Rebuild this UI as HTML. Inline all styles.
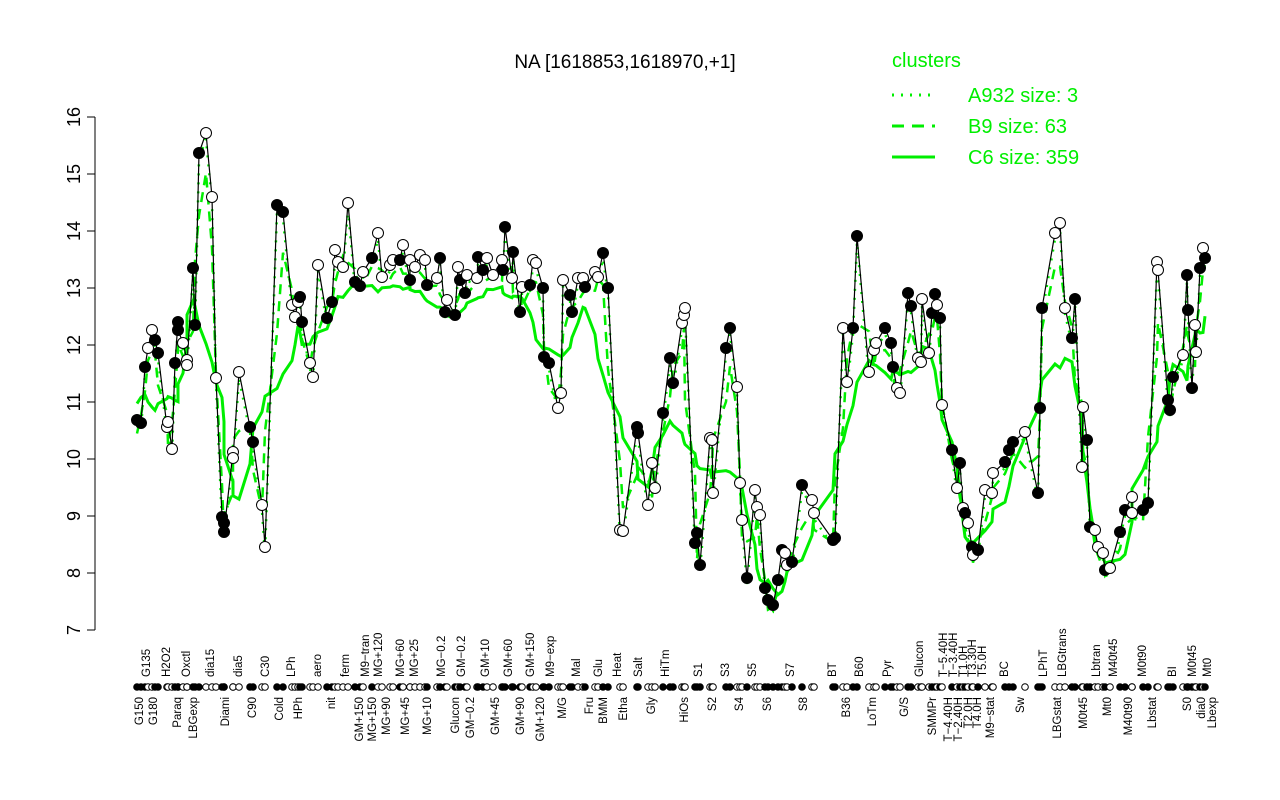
<!DOCTYPE html>
<html><head><meta charset="utf-8"><style>
body{margin:0;background:#fff}
svg{display:block;font-family:"Liberation Sans",sans-serif}
</style></head><body>
<svg id="s" width="1280" height="800" xmlns="http://www.w3.org/2000/svg">
<text x="625" y="68" font-size="19" text-anchor="middle">NA [1618853,1618970,+1]</text>
<line x1="95" y1="117" x2="95" y2="630" stroke="#000"/>
<text x="892" y="67" font-size="20" fill="#00ee00">clusters</text>
<line x1="892" y1="95" x2="935" y2="95" stroke="#00ee00" stroke-width="3" stroke-dasharray="2,7"/>
<line x1="892" y1="126" x2="935" y2="126" stroke="#00ee00" stroke-width="3" stroke-dasharray="12,8"/>
<line x1="892" y1="157" x2="935" y2="157" stroke="#00ee00" stroke-width="3"/>
<text x="968" y="102" font-size="20" fill="#00ee00">A932 size: 3</text>
<text x="968" y="133" font-size="20" fill="#00ee00">B9 size: 63</text>
<text x="968" y="164" font-size="20" fill="#00ee00">C6 size: 359</text>
<g id="g"></g>
</svg>
<script>
const NS="http://www.w3.org/2000/svg",g=document.getElementById('g');
function el(t,a,txt){const e=document.createElementNS(NS,t);for(const k in a)e.setAttribute(k,a[k]);if(txt)e.textContent=txt;g.appendChild(e);return e;}
for(let v=7;v<=16;v++){const y=630-(v-7)*57;el('line',{x1:87,y1:y,x2:95,y2:y,stroke:'#000'});
el('text',{x:80,y:y,'font-size':18,'text-anchor':'middle',transform:`rotate(-90 80 ${y})`},String(v));}
// [x,y,filled]
const P=[[137,420,1],[141,423,1],[145,367,1],[148,348,0],[152,330,0],[155,340,1],[158,353,1],[167,427,0],[168,422,0],[172,449,0],[175,363,1],[178,322,1],[178,330,1],[183,343,0],[187,360,0],[187,365,0],[193,268,1],[195,325,1],[199,153,1],[206,133,0],[212,197,0],[216,378,0],[222,517,1],[224,523,1],[224,532,1],[233,452,0],[233,458,0],[239,372,0],[250,427,1],[253,442,1],[262,505,0],[265,547,0],[277,205,1],[283,212,1],[292,305,0],[295,317,0],[298,302,0],[300,297,1],[302,322,1],[310,363,0],[313,377,0],[318,265,0],[327,318,1],[332,302,1],[335,250,0],[338,262,0],[343,267,0],[348,203,0],[355,282,1],[360,286,1],[363,272,0],[372,258,1],[378,233,0],[382,277,0],[390,265,0],[393,260,0],[400,260,1],[403,245,0],[410,280,1],[410,260,0],[415,267,0],[420,255,0],[425,260,0],[427,285,1],[437,278,0],[440,258,1],[445,312,1],[447,300,0],[455,315,1],[458,267,0],[460,280,1],[465,293,1],[467,275,0],[477,278,0],[478,257,1],[483,270,1],[487,258,0],[493,275,0],[502,260,0],[503,270,1],[505,227,1],[512,278,0],[513,252,1],[520,312,1],[522,287,0],[530,285,1],[533,260,0],[536,263,0],[543,288,1],[544,357,1],[549,363,1],[558,408,0],[561,393,0],[563,280,0],[570,295,1],[572,312,1],[578,278,0],[583,278,0],[585,287,1],[595,272,0],[598,277,0],[603,253,1],[608,288,1],[620,530,0],[623,531,0],[637,427,1],[638,433,1],[648,505,0],[652,463,0],[655,488,0],[663,413,1],[670,358,1],[673,383,1],[682,323,0],[684,315,0],[685,308,0],[695,543,1],[697,533,1],[700,565,1],[710,438,0],[712,440,0],[713,493,0],[726,348,1],[730,328,1],[737,387,0],[740,483,0],[742,520,0],[747,578,1],[755,490,0],[757,507,0],[760,515,0],[765,588,1],[768,600,1],[773,605,1],[778,580,1],[782,550,1],[785,553,0],[787,565,0],[792,562,1],[802,485,1],[812,500,0],[814,513,0],[833,540,1],[835,538,1],[843,328,0],[847,382,0],[853,328,1],[857,236,1],[869,372,0],[874,350,0],[876,343,0],[885,328,1],[891,343,1],[893,367,1],[897,388,0],[900,393,0],[908,293,1],[911,306,1],[918,358,0],[921,362,0],[922,299,0],[929,353,0],[932,313,1],[935,294,1],[937,305,0],[940,318,1],[942,405,0],[952,450,1],[957,488,0],[960,463,1],[963,508,0],[965,513,1],[968,523,0],[972,547,1],[973,555,0],[978,550,1],[985,490,0],[992,493,0],[993,473,0],[1005,462,1],[1009,450,1],[1013,442,1],[1025,432,0],[1038,493,1],[1040,408,1],[1042,308,1],[1055,233,0],[1060,223,0],[1065,308,0],[1072,338,1],[1075,299,1],[1082,467,0],[1083,407,0],[1087,440,1],[1090,527,1],[1095,530,0],[1098,547,0],[1103,553,0],[1105,570,1],[1110,568,0],[1120,532,1],[1125,510,1],[1132,497,0],[1132,513,0],[1143,510,1],[1148,503,1],[1157,262,0],[1158,270,0],[1168,400,1],[1170,410,1],[1173,377,1],[1183,355,0],[1187,275,1],[1188,310,1],[1192,388,1],[1195,325,0],[1196,352,0],[1200,268,1],[1203,248,0],[1205,258,1]];
function smooth(off,w){return P.map((p,i)=>{let s=0,n=0;for(let j=Math.max(0,i-w);j<=Math.min(P.length-1,i+w);j++){s+=P[j][1];n++;}return [p[0],Math.min(622,s/n+off)];});}
function pl(pts,a){el('polyline',Object.assign({points:pts.map(p=>p[0]+','+p[1]).join(' '),fill:'none'},a));}
pl(smooth(26,4),{stroke:'#00ee00','stroke-width':3});
pl(smooth(12,1),{stroke:'#00ee00','stroke-width':2.5,'stroke-dasharray':'10,7'});
pl(smooth(6,0),{stroke:'#00ee00','stroke-width':2.5,'stroke-dasharray':'2,7'});
pl(P,{stroke:'#000','stroke-width':1.2});
P.forEach(p=>{const f=p[2]?'#000':'#fff';
el('circle',{cx:p[0],cy:p[1],r:5.5,fill:f,stroke:'#000','stroke-width':1});
el('circle',{cx:p[0],cy:687,r:3.3,fill:f,stroke:'#000','stroke-width':1});});
const L=[[139,'G150'],[146,'G135'],[153,'G180'],[166,'H2O2'],[177,'Paraq'],[186,'Oxctl'],[193,'LBGexp'],[210,'dia15'],[225,'Diami'],[238,'dia5'],[252,'C90'],[265,'C30'],[279,'Cold'],[291,'LPh'],[298,'HPh'],[317,'aero'],[331,'nit'],[345,'ferm'],[359,'GM+150'],[365,'M9−tran'],[372,'MG+150'],[378,'MG+120'],[386,'MG+90'],[400,'MG+60'],[405,'MG+45'],[414,'MG+25'],[427,'MG+10'],[441,'MG−0.2'],[455,'Glucon'],[461,'GM−0.2'],[470,'GM−0.2'],[485,'GM+10'],[495,'GM+45'],[508,'GM+60'],[520,'GM+90'],[530,'GM+150'],[540,'GM+120'],[550,'M9−exp'],[562,'M/G'],[576,'Mal'],[589,'Fru'],[598,'Glu'],[603,'BMM'],[617,'Heat'],[623,'Etha'],[638,'Salt'],[651,'Gly'],[665,'HiTm'],[684,'HiOs'],[698,'S1'],[712,'S2'],[725,'S3'],[739,'S4'],[752,'S5'],[767,'S6'],[790,'S7'],[803,'S8'],[832,'BT'],[846,'B36'],[859,'B60'],[872,'LoTm'],[887,'Pyr'],[904,'G/S'],[919,'Glucon'],[932,'SMMPr'],[943,'T−5.40H'],[948,'T−4.40H'],[953,'T−3.40H'],[958,'T−2.40H'],[963,'T1.0H'],[968,'T2.0H'],[972,'T3.30H'],[977,'T4.0H'],[982,'T5.0H'],[990,'M9−stat'],[1004,'BC'],[1020,'Sw'],[1043,'LPhT'],[1057,'LBGstat'],[1062,'LBGtrans'],[1083,'M0t45'],[1096,'Lbtran'],[1107,'Mt0'],[1113,'M40t45'],[1128,'M40t90'],[1142,'M0t90'],[1152,'Lbstat'],[1172,'BI'],[1187,'S0'],[1192,'M0t45'],[1201,'dia0'],[1207,'Mt0'],[1212,'Lbexp']];
L.forEach(([x,t],i)=>{const xx=x+4;
if(i%2==1) el('text',{x:xx,y:677,'font-size':11.5,'text-anchor':'start',transform:`rotate(-90 ${xx} 677)`},t);
else el('text',{x:xx,y:697,'font-size':11.5,'text-anchor':'end',transform:`rotate(-90 ${xx} 697)`},t);});
</script>
</body></html>
